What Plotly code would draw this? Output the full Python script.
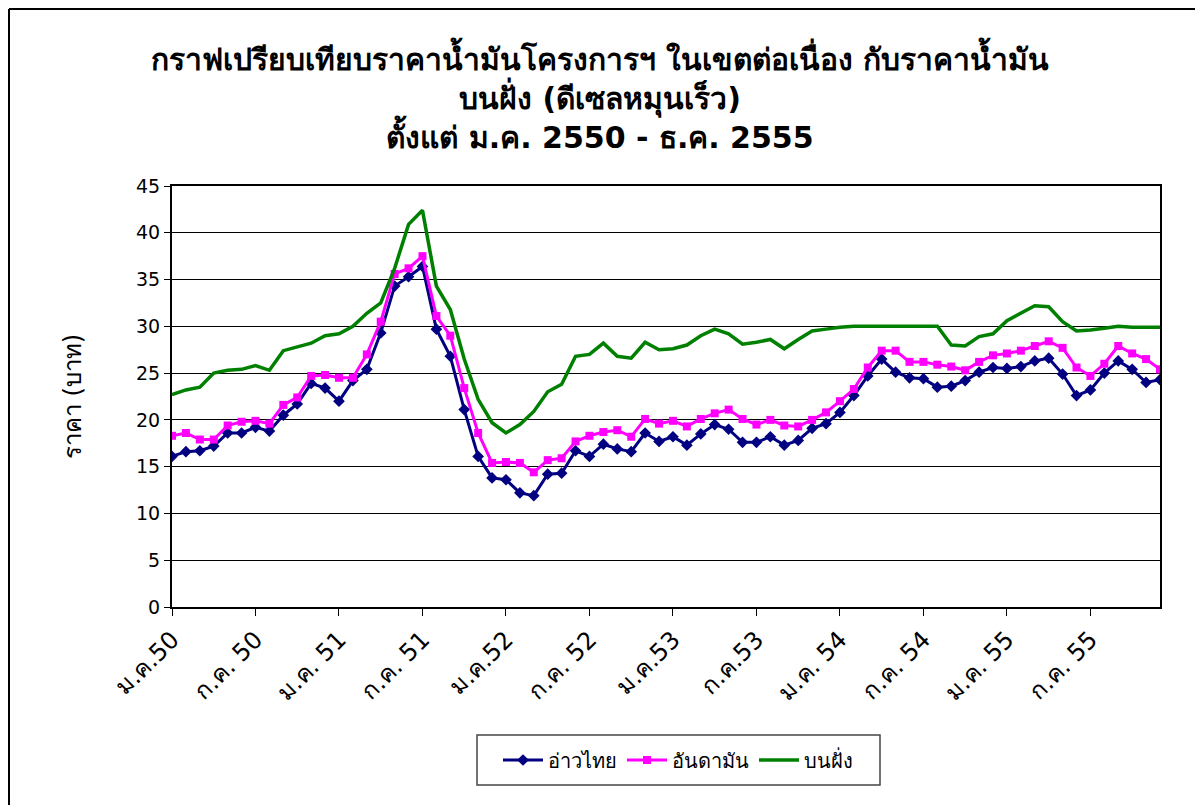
import plotly.graph_objects as go

months = list(range(72))
tick_pos = [0, 6, 12, 18, 24, 30, 36, 42, 48, 54, 60, 66]
tick_labels = ["ม.ค.50", "ก.ค. 50", "ม.ค. 51", "ก.ค. 51", "ม.ค.52", "ก.ค. 52",
               "ม.ค.53", "ก.ค.53", "ม.ค. 54", "ก.ค. 54", "ม.ค. 55", "ก.ค. 55"]

gulf = [16.1, 16.6, 16.7, 17.2, 18.6, 18.6, 19.2, 18.8, 20.5, 21.7, 23.9, 23.4,
        22.0, 24.2, 25.4, 29.3, 34.3, 35.3, 36.4, 29.7, 26.8, 21.1, 16.1, 13.8,
        13.6, 12.2, 11.9, 14.2, 14.3, 16.7, 16.1, 17.4, 16.9, 16.6, 18.6, 17.7,
        18.2, 17.3, 18.5, 19.5, 19.0, 17.6, 17.6, 18.2, 17.3, 17.8, 19.1, 19.6,
        20.8, 22.6, 24.7, 26.5, 25.1, 24.5, 24.4, 23.5, 23.6, 24.2, 25.1, 25.6,
        25.5, 25.7, 26.3, 26.6, 24.9, 22.6, 23.2, 25.0, 26.3, 25.4, 24.0, 24.3]

andaman = [18.3, 18.6, 17.9, 17.9, 19.4, 19.8, 19.9, 19.6, 21.6, 22.4, 24.7, 24.8,
           24.5, 24.5, 27.0, 30.5, 35.6, 36.2, 37.5, 31.1, 29.0, 23.4, 18.6, 15.4,
           15.5, 15.4, 14.4, 15.7, 15.9, 17.7, 18.3, 18.7, 18.9, 18.2, 20.1, 19.6,
           19.9, 19.3, 20.1, 20.7, 21.1, 20.1, 19.5, 20.0, 19.4, 19.3, 20.0, 20.8,
           22.0, 23.3, 25.6, 27.4, 27.4, 26.2, 26.2, 25.9, 25.7, 25.3, 26.2, 26.9,
           27.1, 27.4, 27.9, 28.4, 27.7, 25.6, 24.7, 26.0, 27.9, 27.1, 26.5, 25.4]

onshore = [22.7, 23.2, 23.5, 25.0, 25.3, 25.4, 25.8, 25.3, 27.4, 27.8, 28.2, 29.0,
           29.2, 30.0, 31.4, 32.5, 36.2, 40.9, 42.4, 34.3, 31.8, 26.5, 22.2, 19.7,
           18.6, 19.5, 20.9, 23.0, 23.8, 26.8, 27.0, 28.2, 26.8, 26.6, 28.3, 27.5,
           27.6, 28.0, 29.0, 29.7, 29.2, 28.1, 28.3, 28.6, 27.6, 28.6, 29.5, 29.7,
           29.9, 30.0, 30.0, 30.0, 30.0, 30.0, 30.0, 30.0, 28.0, 27.9, 28.9, 29.2,
           30.6, 31.4, 32.2, 32.1, 30.5, 29.5, 29.6, 29.8, 30.0, 29.9, 29.9, 29.9]

FONT = "Tahoma, 'DejaVu Sans', 'Noto Sans', sans-serif"

# page body has an 8px margin; figure is sized/positioned to compensate
OFF = 8
FW, FH = 1203 - OFF, 805 - OFF
# plot-area geometry in screen pixels
L, R, T, B = 172, 1160, 186, 607
W, H = R - L, B - T


def px(x):
    return (x - L) / W


def py(y):
    return (B - y) / H


fig = go.Figure()
fig.add_trace(go.Scatter(x=months, y=gulf, name="อ่าวไทย", mode="lines+markers",
                         line=dict(color="#000080", width=3),
                         marker=dict(symbol="diamond", size=9, color="#000080")))
fig.add_trace(go.Scatter(x=months, y=andaman, name="อันดามัน", mode="lines+markers",
                         line=dict(color="#FF00FF", width=3),
                         marker=dict(symbol="square", size=8, color="#FF00FF")))
fig.add_trace(go.Scatter(x=months, y=onshore, name="บนฝั่ง", mode="lines",
                         line=dict(color="#008000", width=3.5)))

fig.update_layout(
    width=FW, height=FH,
    margin=dict(l=L - OFF, r=1203 - R, t=T - OFF, b=805 - B, autoexpand=False),
    paper_bgcolor="white", plot_bgcolor="white",
    font=dict(family=FONT, color="black", size=17),
    title=dict(text="<b>กราฟเปรียบเทียบราคาน้ำมันโครงการฯ ในเขตต่อเนื่อง กับราคาน้ำมัน<br>บนฝั่ง (ดีเซลหมุนเร็ว)<br>ตั้งแต่ ม.ค. 2550 - ธ.ค. 2555</b>",
               x=(600 - OFF) / FW, xanchor="center", y=1 - (100 - OFF - 30) / FH, yanchor="middle",
               font=dict(size=30, family=FONT)),
    legend=dict(orientation="h", x=px(678), xanchor="center", y=py(760), yanchor="middle",
                borderwidth=0, font=dict(size=20), bgcolor="rgba(0,0,0,0)",
                itemwidth=40),
    showlegend=True,
)
fig.update_xaxes(range=[0, 71], tickmode="array", tickvals=tick_pos, ticktext=tick_labels,
                 tickangle=-45, ticks="outside", ticklen=7, tickcolor="black",
                 showgrid=False, showline=True, linecolor="black", linewidth=2,
                 mirror=True, zeroline=False, tickfont=dict(size=24), automargin=False)
fig.update_yaxes(range=[0, 45], dtick=5, ticks="outside", ticklen=6, tickcolor="black",
                 showgrid=True, gridcolor="black", gridwidth=1,
                 showline=True, linecolor="black", linewidth=2, mirror=True,
                 zeroline=False, tickfont=dict(size=19), automargin=False,
                 title=dict(text="ราคา (บาท)", font=dict(size=24), standoff=48))

# outer chart border (top and left edges)
fig.add_shape(type="line", xref="paper", yref="paper",
              x0=px(9), x1=px(1210), y0=py(9), y1=py(9),
              line=dict(color="black", width=2))
fig.add_shape(type="line", xref="paper", yref="paper",
              x0=px(9), x1=px(9), y0=py(9), y1=py(812),
              line=dict(color="black", width=2))
# legend box
fig.add_shape(type="rect", xref="paper", yref="paper",
              x0=px(477), x1=px(880), y0=py(735), y1=py(785),
              line=dict(color="#444444", width=1.5))

fig.write_html("out.html")
